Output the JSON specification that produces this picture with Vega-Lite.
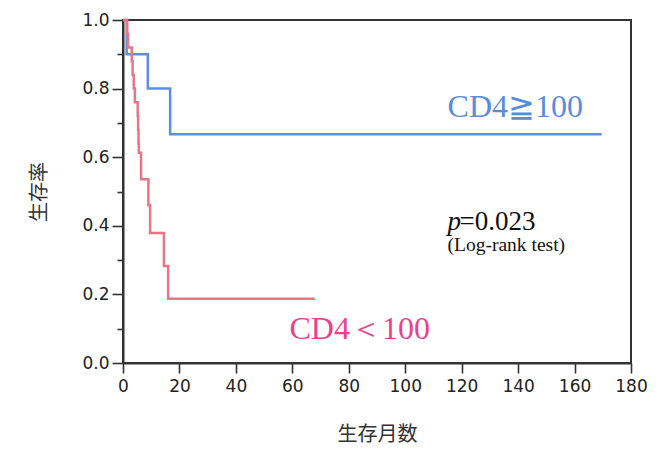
{
  "$schema": "https://vega.github.io/schema/vega-lite/v6.json",
  "width": 508,
  "height": 343,
  "autosize": {"type": "none"},
  "padding": {"left": 123, "top": 20, "right": 35, "bottom": 98},
  "background": "white",
  "config": {
    "view": {"stroke": "#333333", "strokeWidth": 2},
    "axis": {
      "domainColor": "#333333",
      "domainWidth": 2,
      "tickColor": "#333333",
      "tickWidth": 1.6,
      "labelFont": "DejaVu Sans",
      "labelFontSize": 17,
      "labelColor": "#222222",
      "titleFont": "Noto Sans CJK JP",
      "titleFontSize": 20,
      "titleFontWeight": "normal",
      "titleColor": "#333333",
      "grid": false
    }
  },
  "datasets": {
    "curves": [
      {"group": "high", "months": 0, "surv": 1.0},
      {"group": "high", "months": 1.3, "surv": 0.9},
      {"group": "high", "months": 8.8, "surv": 0.8},
      {"group": "high", "months": 16.7, "surv": 0.667},
      {"group": "high", "months": 169.6, "surv": 0.667},
      {"group": "low", "months": 0, "surv": 1.0},
      {"group": "low", "months": 1.5, "surv": 0.96},
      {"group": "low", "months": 1.8, "surv": 0.92},
      {"group": "low", "months": 3.1, "surv": 0.88},
      {"group": "low", "months": 3.4, "surv": 0.84},
      {"group": "low", "months": 3.8, "surv": 0.8},
      {"group": "low", "months": 4.2, "surv": 0.76},
      {"group": "low", "months": 5.2, "surv": 0.72},
      {"group": "low", "months": 5.35, "surv": 0.68},
      {"group": "low", "months": 5.5, "surv": 0.64},
      {"group": "low", "months": 5.6, "surv": 0.613},
      {"group": "low", "months": 6.4, "surv": 0.536},
      {"group": "low", "months": 9.0, "surv": 0.46},
      {"group": "low", "months": 9.6, "surv": 0.379},
      {"group": "low", "months": 14.5, "surv": 0.283},
      {"group": "low", "months": 16.0, "surv": 0.187},
      {"group": "low", "months": 68, "surv": 0.187}
    ],
    "labels": [
      {"kind": "high", "text": "CD4≧100", "months": 115, "surv": 0.717},
      {"kind": "low", "text": "CD4＜100", "months": 59, "surv": 0.07},
      {"kind": "p", "text": "p", "months": 115, "surv": 0.388},
      {"kind": "pval", "text": "=0.023", "months": 115, "surv": 0.388},
      {"kind": "test", "text": "(Log-rank test)", "months": 115, "surv": 0.327}
    ]
  },
  "encoding": {
    "x": {
      "field": "months",
      "type": "quantitative",
      "scale": {"domain": [0, 180], "nice": false},
      "axis": {
        "title": "生存月数",
        "values": [0, 20, 40, 60, 80, 100, 120, 140, 160, 180],
        "tickSize": 10,
        "labelPadding": 5,
        "titlePadding": 30,
        "labelFlush": false
      }
    },
    "y": {
      "field": "surv",
      "type": "quantitative",
      "scale": {"domain": [0, 1], "nice": false},
      "axis": {
        "title": "生存率",
        "values": [0, 0.1, 0.2, 0.3, 0.4, 0.5, 0.6, 0.7, 0.8, 0.9, 1.0],
        "labelExpr": "round(datum.value*10)%2==0 ? format(datum.value, '.1f') : ''",
        "tickSize": {"condition": {"test": "round(datum.value*10)%2==1", "value": 6}, "value": 11},
        "labelPadding": 3,
        "titlePadding": 32,
        "labelFlush": false
      }
    }
  },
  "layer": [
    {
      "data": {"name": "curves"},
      "transform": [{"filter": "datum.group == 'high'"}],
      "mark": {"type": "line", "interpolate": "step-after", "strokeWidth": 2.5, "color": "#5b8fe3"}
    },
    {
      "data": {"name": "curves"},
      "transform": [{"filter": "datum.group == 'low'"}],
      "mark": {"type": "line", "interpolate": "step-after", "strokeWidth": 2.5, "color": "#ea7585"}
    },
    {
      "data": {"name": "labels"},
      "transform": [{"filter": "datum.kind == 'high'"}],
      "mark": {"type": "text", "align": "left", "baseline": "alphabetic", "font": "Liberation Serif", "fontSize": 32, "color": "#5a8cdc"},
      "encoding": {"text": {"field": "text"}}
    },
    {
      "data": {"name": "labels"},
      "transform": [{"filter": "datum.kind == 'low'"}],
      "mark": {"type": "text", "align": "left", "baseline": "alphabetic", "font": "Liberation Serif", "fontSize": 32, "color": "#ee3f8c"},
      "encoding": {"text": {"field": "text"}}
    },
    {
      "data": {"name": "labels"},
      "transform": [{"filter": "datum.kind == 'p'"}],
      "mark": {"type": "text", "align": "left", "baseline": "alphabetic", "font": "Liberation Serif", "fontSize": 27, "fontStyle": "italic", "color": "#111111"},
      "encoding": {"text": {"field": "text"}}
    },
    {
      "data": {"name": "labels"},
      "transform": [{"filter": "datum.kind == 'pval'"}],
      "mark": {"type": "text", "align": "left", "baseline": "alphabetic", "dx": 12, "font": "Liberation Serif", "fontSize": 27, "color": "#111111"},
      "encoding": {"text": {"field": "text"}}
    },
    {
      "data": {"name": "labels"},
      "transform": [{"filter": "datum.kind == 'test'"}],
      "mark": {"type": "text", "align": "left", "baseline": "alphabetic", "font": "Liberation Serif", "fontSize": 19.5, "color": "#111111"},
      "encoding": {"text": {"field": "text"}}
    }
  ]
}
